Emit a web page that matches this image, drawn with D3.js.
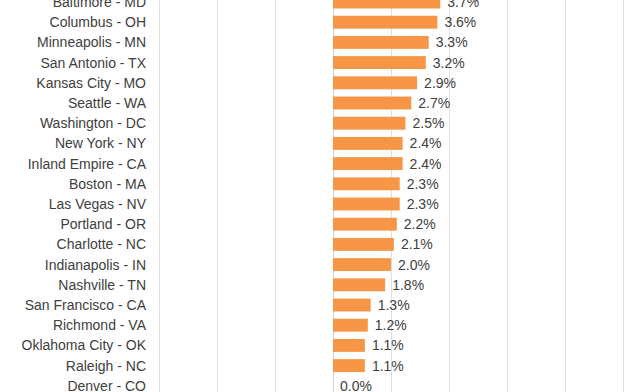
<!DOCTYPE html>
<html>
<head>
<meta charset="utf-8">
<script src="https://cdn.jsdelivr.net/npm/d3@7"></script>
<style>
  body { margin: 0; background: #fff; }
  svg { display: block; }
  text { font-family: "Liberation Sans", Arial, sans-serif; fill: #404040; }
</style>
</head>
<body>
<script>
(function(){

	//cities, top to bottom
	var cities = ["Baltimore - MD", "Columbus - OH", "Minneapolis - MN", "San Antonio - TX",
		"Kansas City - MO", "Seattle - WA", "Washington - DC", "New York - NY",
		"Inland Empire - CA", "Boston - MA", "Las Vegas - NV", "Portland - OR",
		"Charlotte - NC", "Indianapolis - IN", "Nashville - TN", "San Francisco - CA",
		"Richmond - VA", "Oklahoma City - OK", "Raleigh - NC", "Denver - CO"];

	//growth in percent
	var growth = [3.7, 3.6, 3.3, 3.2, 2.9, 2.7, 2.5, 2.4, 2.4, 2.3,
		2.3, 2.2, 2.1, 2.0, 1.8, 1.3, 1.2, 1.1, 1.1, 0.0];

	//gridline values
	var gridTicks = [-6, -4, -2, 0, 2, 4, 6, 8, 10];

	var width = 644, height = 392;

	var svg = d3.select("body")
		.append("svg")
		.attr("width", width)
		.attr("height", height);

	//horizontal scale, chart is cropped so the domain runs past the visible rows
	var x = d3.scaleLinear()
		.domain([-6, 10])
		.range([159, 623]);

	//row step is ~20.2px, first row centred near the top edge
	var step = 20.2;
	var y = d3.scaleBand()
		.domain(cities)
		.range([2 - step / 2, 2 - step / 2 + step * cities.length])
		.paddingInner(0.36)
		.paddingOuter(0.18);

	//gridlines
	svg.append("g")
		.selectAll("line")
		.data(gridTicks)
		.enter()
		.append("line")
		.attr("x1", function(d){ return Math.round(x(d)) + 0.5; })
		.attr("x2", function(d){ return Math.round(x(d)) + 0.5; })
		.attr("y1", 0)
		.attr("y2", height)
		.attr("stroke", function(d){ return d === 0 ? "#cfcfcf" : "#dedede"; })
		.attr("stroke-width", 1);

	//bars
	svg.append("g")
		.selectAll("rect")
		.data(growth)
		.enter()
		.append("rect")
		.attr("x", x(0))
		.attr("y", function(d, i){ return y(cities[i]); })
		.attr("width", function(d){ return x(d) - x(0); })
		.attr("height", y.bandwidth())
		.attr("fill", "#f79646");

	//value labels
	svg.append("g")
		.selectAll("text")
		.data(growth)
		.enter()
		.append("text")
		.attr("x", function(d){ return x(d) + 7; })
		.attr("y", function(d, i){ return y(cities[i]) + y.bandwidth() / 2; })
		.attr("dy", "0.36em")
		.style("font-size", "14px")
		.text(function(d){ return d.toFixed(1) + "%"; });

	//category labels
	svg.append("g")
		.selectAll("text")
		.data(cities)
		.enter()
		.append("text")
		.attr("x", 146)
		.attr("y", function(d){ return y(d) + y.bandwidth() / 2; })
		.attr("dy", "0.36em")
		.attr("text-anchor", "end")
		.style("font-size", "14px")
		.text(function(d){ return d; });

})();
</script>
</body>
</html>
